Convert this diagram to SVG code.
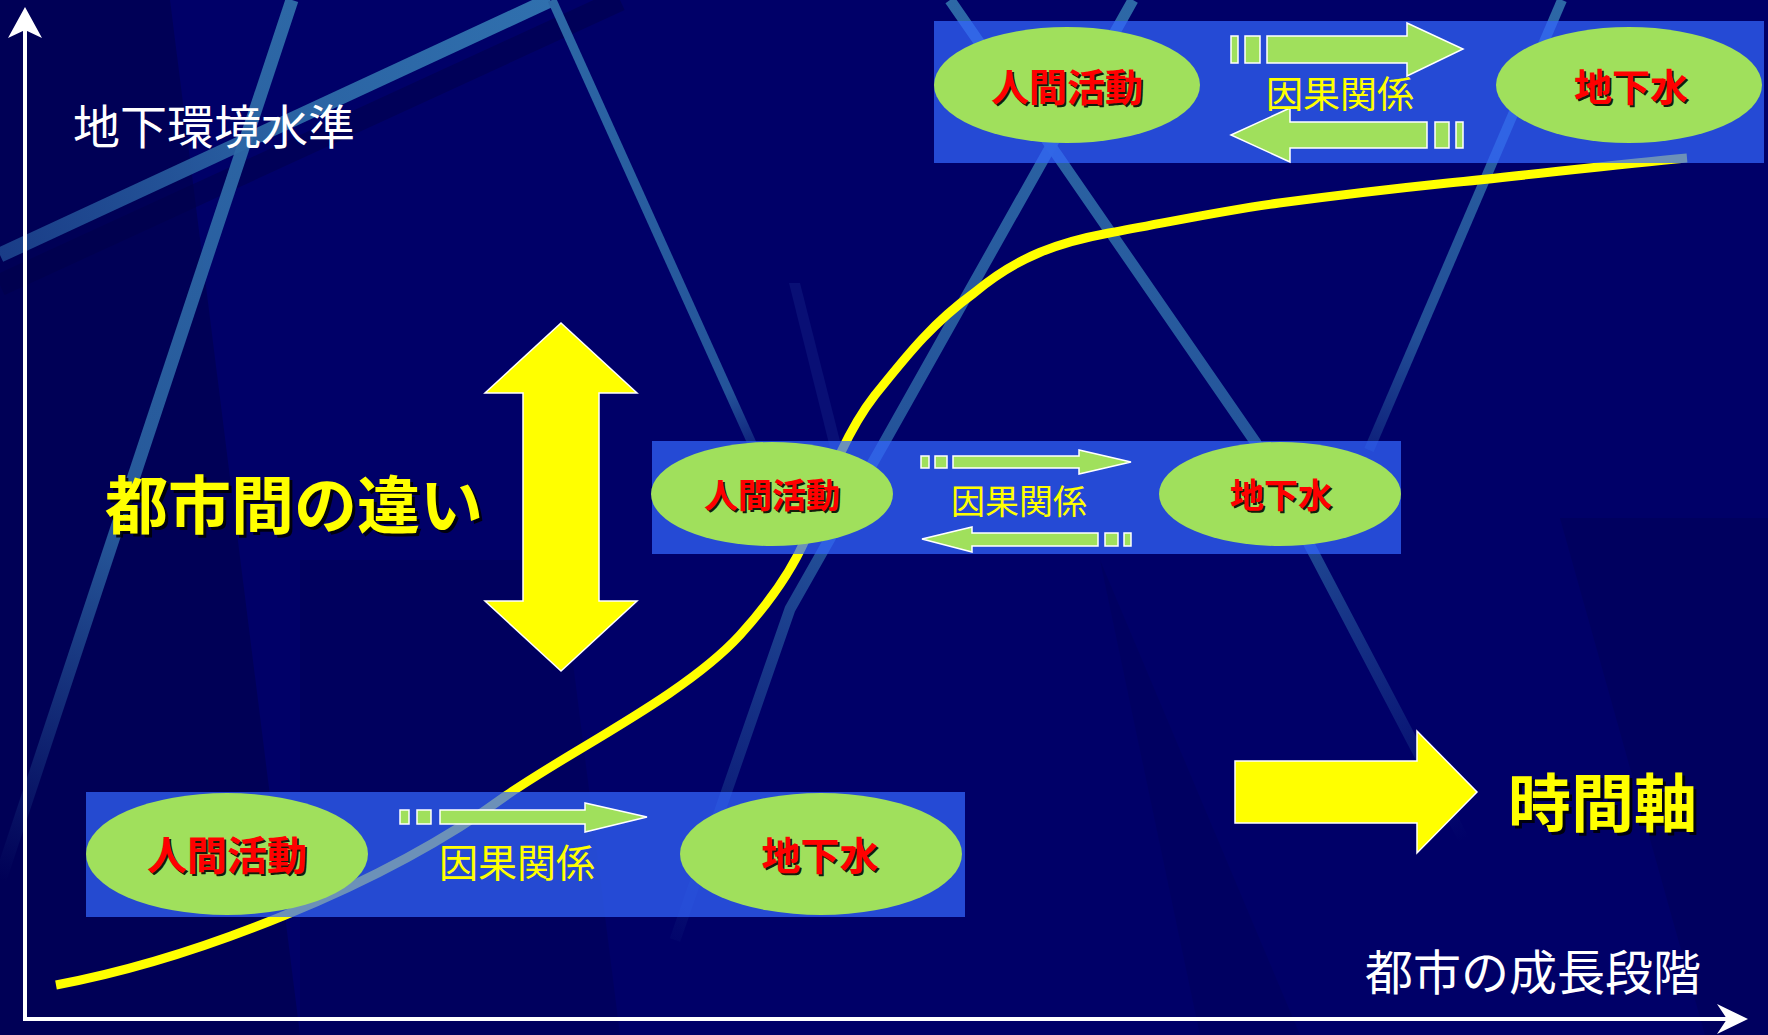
<svg xmlns="http://www.w3.org/2000/svg" width="1768" height="1035" viewBox="0 0 1768 1035">
<defs>
<style>
.box{fill:#3366ff;fill-opacity:0.72}
.ell{fill:#a0e05c}
.garrow{fill:#a0e05c;stroke:#ffffff;stroke-width:1.5}
.yarrow{fill:#ffff00;stroke:#ffffff;stroke-width:1.5}
.jp{font-family:"Noto Sans CJK JP","Noto Sans CJK SC",sans-serif}
.lbl{font-weight:700;text-anchor:middle;fill:#ff0000}
.lblsh{font-weight:700;text-anchor:middle;fill:#000000;fill-opacity:0.9}
.rel{font-weight:400;text-anchor:middle;fill:#ffff00}
.axis{stroke:#ffffff;stroke-width:4;fill:none}
.axlbl{font-weight:400;fill:#ffffff}
.big{font-weight:700;fill:#ffff00}
.bigsh{font-weight:700;fill:#000000;fill-opacity:0.85}
.streak{fill:none;stroke-linecap:butt;stroke-linejoin:round}
</style>
<linearGradient id="gA" gradientUnits="userSpaceOnUse" x1="0" y1="255" x2="550" y2="0">
<stop offset="0" stop-color="#1e4790" stop-opacity="0.85"/>
<stop offset="0.5" stop-color="#2a62a2"/>
<stop offset="1" stop-color="#3070ae"/>
</linearGradient>
<linearGradient id="gB" gradientUnits="userSpaceOnUse" x1="292" y1="0" x2="0" y2="880">
<stop offset="0" stop-color="#2d68a6"/>
<stop offset="0.6" stop-color="#2d68a6" stop-opacity="0.85"/>
<stop offset="1" stop-color="#2d68a6" stop-opacity="0"/>
</linearGradient>
<linearGradient id="gC" gradientUnits="userSpaceOnUse" x1="552" y1="0" x2="760" y2="460">
<stop offset="0" stop-color="#2d68a6"/>
<stop offset="0.85" stop-color="#2d68a6" stop-opacity="0.8"/>
<stop offset="1" stop-color="#2d68a6" stop-opacity="0.2"/>
</linearGradient>
<linearGradient id="gD" gradientUnits="userSpaceOnUse" x1="950" y1="0" x2="1464" y2="840">
<stop offset="0" stop-color="#2d68a6"/>
<stop offset="0.6" stop-color="#2d68a6" stop-opacity="0.8"/>
<stop offset="1" stop-color="#2d68a6" stop-opacity="0"/>
</linearGradient>
<linearGradient id="gE" gradientUnits="userSpaceOnUse" x1="1133" y1="0" x2="675" y2="940">
<stop offset="0" stop-color="#2d68a6"/>
<stop offset="0.6" stop-color="#2d68a6" stop-opacity="0.75"/>
<stop offset="1" stop-color="#2d68a6" stop-opacity="0.05"/>
</linearGradient>
<linearGradient id="gF" gradientUnits="userSpaceOnUse" x1="1562" y1="0" x2="1369" y2="450">
<stop offset="0" stop-color="#2d68a6"/>
<stop offset="0.75" stop-color="#2d68a6" stop-opacity="0.75"/>
<stop offset="1" stop-color="#2d68a6" stop-opacity="0.3"/>
</linearGradient>
</defs>

<g id="background">
<rect x="0" y="0" width="1768" height="1035" fill="#000068"/>
<polygon points="0,0 170,0 300,1035 0,1035" fill="#00004e" fill-opacity="0.7"/>
<polygon points="300,560 560,560 620,1035 300,1035" fill="#00004e" fill-opacity="0.35"/>
<polygon points="1560,518 1768,518 1768,1035 1705,1035" fill="#000055" fill-opacity="0.5"/>
<polygon points="1100,560 1300,1035 1200,1035" fill="#000058" fill-opacity="0.4"/>
<polygon points="789,283 800,283 860,520 848,520" fill="#1a2a90" fill-opacity="0.35"/>
<line class="streak" x1="0" y1="285" x2="620" y2="0" stroke="#000048" stroke-opacity="0.5" stroke-width="22"/>
<line class="streak" x1="0" y1="255" x2="550" y2="0" stroke="url(#gA)" stroke-width="15"/>
<line class="streak" x1="292" y1="0" x2="0" y2="880" stroke="url(#gB)" stroke-width="13"/>
<line class="streak" x1="552" y1="0" x2="755" y2="450" stroke="url(#gC)" stroke-width="9"/>
<polyline class="streak" points="950,0 1256,443 1464,840" stroke="url(#gD)" stroke-width="11"/>
<polyline class="streak" points="1133,0 884,443 790,609 675,940" stroke="url(#gE)" stroke-width="11"/>
<line class="streak" x1="1562" y1="0" x2="1369" y2="450" stroke="url(#gF)" stroke-width="10"/>
</g>

<g id="curve">
<path d="M56,985 C190,960 380,888 507,795 C575,748 685,695 740,635 C770,602 792,570 806,538 C822,500 840,440 875,395 C905,358 930,325 974,293 C1018,256 1060,242 1109,233 C1170,222 1220,211 1279,203 C1340,195 1400,188 1448,183 C1530,175 1610,165 1687,158" fill="none" stroke="#ffff00" stroke-width="9"/>
</g>

<g id="axes">
<line class="axis" x1="25" y1="1019" x2="25" y2="28"/>
<polygon points="25,7 42,38 25,30 8,38" fill="#ffffff"/>
<line class="axis" x1="23" y1="1019" x2="1730" y2="1019"/>
<polygon points="1748,1019 1717,1034 1727,1019 1717,1004" fill="#ffffff"/>
<text class="jp axlbl" x="73" y="144" font-size="47">地下環境水準</text>
<text class="jp axlbl" x="1701" y="990" font-size="48" text-anchor="end">都市の成長段階</text>
</g>

<g id="panel-top">
<rect class="box" x="934" y="21" width="830" height="142"/>
</g>
<g id="panel-middle">
<rect class="box" x="652" y="441" width="749" height="113"/>
</g>
<g id="panel-bottom">
<rect class="box" x="86" y="792" width="879" height="125"/>
</g>

<g id="node-top-human">
<ellipse class="ell" cx="1067" cy="85" rx="133" ry="58"/>
<text class="jp lblsh" x="1069" y="103" font-size="38">人間活動</text>
<text class="jp lbl" x="1067" y="101" font-size="38">人間活動</text>
</g>
<g id="node-top-groundwater">
<ellipse class="ell" cx="1629" cy="85" rx="133" ry="58"/>
<text class="jp lblsh" x="1633" y="103" font-size="38">地下水</text>
<text class="jp lbl" x="1631" y="101" font-size="38">地下水</text>
</g>
<g id="node-mid-human">
<ellipse class="ell" cx="772" cy="494" rx="121" ry="52"/>
<text class="jp lblsh" x="774" y="510" font-size="34">人間活動</text>
<text class="jp lbl" x="772" y="508" font-size="34">人間活動</text>
</g>
<g id="node-mid-groundwater">
<ellipse class="ell" cx="1280" cy="494" rx="121" ry="52"/>
<text class="jp lblsh" x="1283" y="510" font-size="34">地下水</text>
<text class="jp lbl" x="1281" y="508" font-size="34">地下水</text>
</g>
<g id="node-bottom-human">
<ellipse class="ell" cx="227" cy="854" rx="141" ry="61"/>
<text class="jp lblsh" x="229" y="872" font-size="40">人間活動</text>
<text class="jp lbl" x="227" y="870" font-size="40">人間活動</text>
</g>
<g id="node-bottom-groundwater">
<ellipse class="ell" cx="821" cy="854" rx="141" ry="61"/>
<text class="jp lblsh" x="822" y="872" font-size="39">地下水</text>
<text class="jp lbl" x="820" y="870" font-size="39">地下水</text>
</g>

<g id="connectors">
<rect class="garrow" x="1231" y="36" width="7" height="27"/>
<rect class="garrow" x="1245" y="36" width="15" height="27"/>
<polygon class="garrow" points="1267,36 1407,36 1407,23 1463,49 1407,76 1407,63 1267,63"/>
<polygon class="garrow" points="1231,135 1290,108 1290,122 1427,122 1427,148 1290,148 1290,162"/>
<rect class="garrow" x="1435" y="122" width="14" height="26"/>
<rect class="garrow" x="1456" y="122" width="7" height="26"/>
<text class="jp rel" x="1340" y="108" font-size="37">因果関係</text>

<rect class="garrow" x="921" y="456" width="8" height="12"/>
<rect class="garrow" x="935" y="456" width="12" height="12"/>
<polygon class="garrow" points="953,456 1079,456 1079,450 1131,462 1079,474 1079,468 953,468"/>
<polygon class="garrow" points="922,539 972,527 972,533 1098,533 1098,546 972,546 972,552"/>
<rect class="garrow" x="1105" y="533" width="13" height="13"/>
<rect class="garrow" x="1124" y="533" width="7" height="13"/>
<text class="jp rel" x="1019" y="514" font-size="34">因果関係</text>

<rect class="garrow" x="400" y="810" width="9" height="14"/>
<rect class="garrow" x="417" y="810" width="14" height="14"/>
<polygon class="garrow" points="440,810 585,810 585,803 647,817 585,832 585,824 440,824"/>
<text class="jp rel" x="517" y="877" font-size="39">因果関係</text>
</g>

<g id="city-difference">
<polygon class="yarrow" points="561,323 637,393 599,393 599,601 637,601 561,671 485,601 523,601 523,393 485,393"/>
<text class="jp bigsh" x="108" y="531" font-size="63">都市間の違い</text>
<text class="jp big" x="105" y="528" font-size="63">都市間の違い</text>
</g>

<g id="time-axis">
<polygon class="yarrow" points="1235,761 1417,761 1417,731 1477,792 1417,853 1417,823 1235,823"/>
<text class="jp bigsh" x="1511" y="829" font-size="63">時間軸</text>
<text class="jp big" x="1508" y="826" font-size="63">時間軸</text>
</g>
</svg>
